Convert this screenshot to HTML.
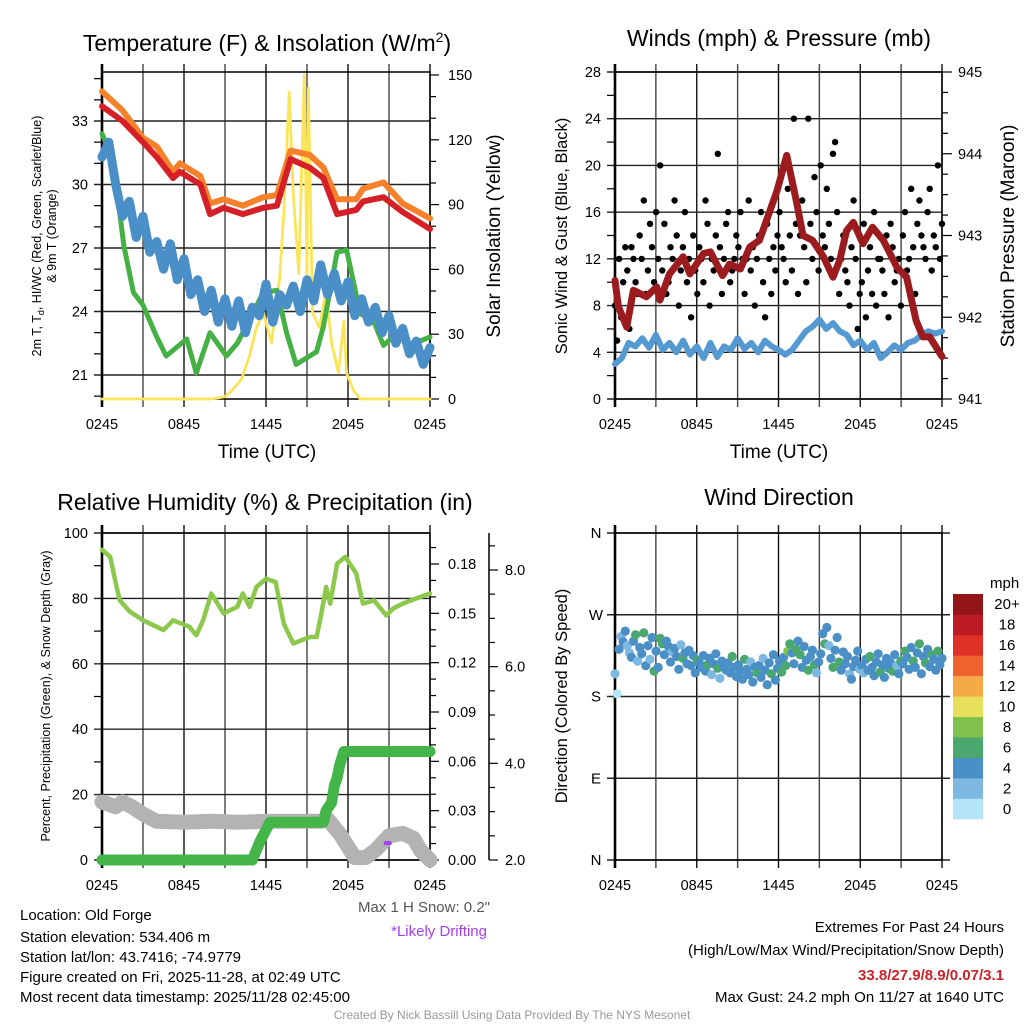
<!DOCTYPE html>
<html><head><meta charset="utf-8"><style>
html,body{margin:0;padding:0;background:#fff;}
svg{display:block;font-family:"Liberation Sans",Arial,sans-serif;}
</style></head><body>
<svg id="fig" width="1024" height="1024" viewBox="0 0 1024 1024" xmlns="http://www.w3.org/2000/svg">
<rect x="0" y="0" width="1024" height="1024" fill="#fff"/>
<text x="267" y="51" font-size="23" text-anchor="middle">Temperature (F) &amp; Insolation (W/m<tspan dy="-9" font-size="14">2</tspan><tspan dy="9">)</tspan></text>
<text x="779" y="46" font-size="23" text-anchor="middle">Winds (mph) &amp; Pressure (mb)</text>
<text x="265" y="510" font-size="23" text-anchor="middle">Relative Humidity (%) &amp; Precipitation (in)</text>
<text x="779" y="505" font-size="23" text-anchor="middle">Wind Direction</text>
<text transform="translate(41,236) rotate(-90)" font-size="12.5" text-anchor="middle">2m T, T<tspan dy="3" font-size="9">d</tspan><tspan dy="-3">, HI/WC (Red, Green, Scarlet/Blue)</tspan></text>
<text transform="translate(56,236) rotate(-90)" font-size="12.5" text-anchor="middle">&amp; 9m T (Orange)</text>
<text transform="translate(500,236) rotate(-90)" font-size="19" text-anchor="middle">Solar Insolation (Yellow)</text>
<text x="267" y="458" font-size="19" text-anchor="middle">Time (UTC)</text>
<text transform="translate(567,236) rotate(-90)" font-size="16.5" text-anchor="middle">Sonic Wind &amp; Gust (Blue, Black)</text>
<text transform="translate(1014,236) rotate(-90)" font-size="19" text-anchor="middle">Station Pressure (Maroon)</text>
<text x="779" y="458" font-size="19" text-anchor="middle">Time (UTC)</text>
<text transform="translate(50,696) rotate(-90)" font-size="12.5" text-anchor="middle">Percent, Precipitation (Green), &amp; Snow Depth (Gray)</text>
<text transform="translate(567,696) rotate(-90)" font-size="16.5" text-anchor="middle">Direction (Colored By Speed)</text>
<text x="990" y="588" font-size="15">mph</text>
<text x="490" y="912" font-size="15" fill="#555" text-anchor="end">Max 1 H Snow: 0.2"</text>
<text x="487" y="936" font-size="15" fill="#a33ff0" text-anchor="end">*Likely Drifting</text>
<g font-size="15">
<text x="20" y="920">Location: Old Forge</text>
<text x="20" y="942">Station elevation: 534.406 m</text>
<text x="20" y="962">Station lat/lon: 43.7416; -74.9779</text>
<text x="20" y="982">Figure created on Fri, 2025-11-28, at 02:49 UTC</text>
<text x="20" y="1002">Most recent data timestamp: 2025/11/28 02:45:00</text>
</g>
<g font-size="15" text-anchor="end">
<text x="1004" y="932">Extremes For Past 24 Hours</text>
<text x="1004" y="955">(High/Low/Max Wind/Precipitation/Snow Depth)</text>
<text x="1004" y="980" fill="#cc2229" font-weight="bold">33.8/27.9/8.9/0.07/3.1</text>
<text x="1004" y="1002">Max Gust: 24.2 mph On 11/27 at 1640 UTC</text>
</g>
<text x="512" y="1019" font-size="12" fill="#999" text-anchor="middle">Created By Nick Bassill Using Data Provided By The NYS Mesonet</text>
</svg>
<script>
// ---------- data ----------
const TIME_LABELS = ["0245","0845","1445","2045","0245"];
const T_HOURS = [0,1.5,3,4,5.2,5.7,7.2,7.9,8.9,10.3,11.8,12.8,13.8,15.2,16.2,17.2,18.6,19.1,20.6,22,24];
const T9M = [34.4,33.5,32.2,31.8,30.6,31.0,30.4,29.1,29.3,29.0,29.4,29.5,31.6,31.4,30.8,29.3,29.3,29.8,30.1,29.1,28.4];
const T2M = [33.7,33.0,32.0,31.3,30.3,30.6,30.0,28.6,28.9,28.6,28.9,29.0,31.2,30.8,30.3,28.6,28.8,29.2,29.4,28.7,27.9];
const TD_HOURS = [0,0.8,1.6,2.3,3.0,4.0,4.7,6.2,6.9,7.9,9.1,9.9,11.8,12.8,13.5,14.2,15.7,16.2,17.2,17.9,18.9,19.9,20.6,21.6,22.5,24];
const TD = [32.4,31.2,27.1,24.9,24.3,22.8,21.9,22.7,21.1,23.0,21.9,22.5,24.9,25.0,23.0,21.5,22.1,23.3,26.8,26.9,23.9,23.5,22.4,23.0,22.4,22.8];
const WINDCHILL = [31.3,32.0,30.0,28.5,29.2,27.5,28.5,26.8,27.3,26.0,27.2,25.5,26.5,24.8,25.5,24.0,25.0,23.5,24.6,23.3,24.5,23.0,24.2,23.8,25.3,23.5,24.8,24.3,25.2,24.0,25.5,24.5,26.2,24.8,25.8,24.5,25.4,23.8,24.6,23.5,24.2,23.0,23.8,22.5,23.2,22.0,22.6,21.5,22.3];
const SOLAR_HOURS = [0,8.0,9.0,9.5,10.2,10.8,11.3,11.8,12.4,13.0,13.3,13.7,14.0,14.4,14.8,15.0,15.1,15.4,15.9,16.4,16.8,17.3,17.7,17.9,18.4,18.9,24];
const SOLAR = [0,0,1,4,9,20,33,40,26,56,86,142,95,58,150,57,144,40,33,50,26,12,36,12,4,0,0];
const TEMP_TICKS = [21,24,27,30,33];
const SOLAR_TICKS = [0,30,60,90,120,150];

const SONIC = [3.0,3.5,4.8,4.5,5.2,4.4,5.5,4.2,4.8,4.0,5.0,3.8,4.5,3.5,4.8,3.6,4.5,4.2,5.2,4.3,4.8,4.0,5.0,4.5,4.2,3.8,4.2,5.0,5.8,6.2,6.8,6.0,6.5,5.8,5.5,4.6,5.0,4.2,4.8,3.5,4.0,4.6,4.2,4.8,5.0,5.5,5.8,5.6,5.8];
const GUST = [8,5,12,7,10,13,11,6,13,12,10,9,14,12,17,9,11,15,13,10,
16,12,20,11,15,9,10,13,12,17,14,8,11,13,16,10,12,7,14,11,
9,13,12,10,17,15,8,12,11,14,21,13,9,12,15,16,10,11,12,14,
13,16,12,9,12,17,11,13,8,12,14,16,10,7,15,12,9,13,11,14,
16,13,12,10,18,14,11,24,15,9,14,17,13,10,24,15,12,19,16,11,
20,14,13,18,15,12,21,22,16,9,12,14,11,10,8,13,17,12,6,9,
10,15,7,11,13,9,16,8,12,12,11,9,14,7,15,13,10,11,12,8,
14,16,11,12,18,13,9,15,17,14,13,12,16,18,11,14,13,20,12,15];
const P_HOURS = [0,0.25,0.86,1.35,2.3,3.06,3.3,4.0,5.0,5.5,6.5,7.0,7.9,8.4,9.2,9.9,10.6,11.9,12.6,13.3,13.8,14.5,15.3,16.0,16.5,17.0,17.5,18.2,18.9,19.7,20.7,21.4,22.1,22.6,23.1,24];
const PRESSURE = [942.45,942.13,941.88,942.33,942.25,942.37,942.21,942.53,942.74,942.53,942.78,942.8,942.51,942.65,942.59,942.86,942.94,943.55,943.98,943.43,943.0,942.94,942.74,942.49,942.70,943.06,943.16,942.9,943.1,942.94,942.61,942.49,941.96,941.76,941.76,941.52];
const WIND_TICKS = [0,4,8,12,16,20,24,28];
const PRESSURE_TICKS = [941,942,943,944,945];

const RH_HOURS = [0,0.6,1.07,1.3,2.05,3.0,4.0,4.5,5.2,6.4,6.9,7.4,8.0,8.9,9.9,10.3,10.8,11.3,12.0,12.7,13.3,14.0,15.2,15.7,16.0,16.4,16.7,17.2,17.8,18.6,19.1,19.9,20.3,20.8,21.3,22.0,23.0,24];
const RH = [94.9,92.7,83.5,79.4,75.9,73.3,71.3,70.3,73.3,71.3,68.7,73.3,81.5,75.4,77.4,81.5,77.4,83.5,86,85,72.3,66.2,68.2,68.2,74.3,83.5,78.4,90.6,92.7,87.6,78.4,79.4,77.4,74.8,76.9,78.4,80,81.5];
const PRECIP_HOURS = [0,11.0,11.6,12.3,16.2,16.4,16.8,17.0,17.2,17.4,17.7,24];
const PRECIP = [0,0,0.012,0.023,0.023,0.03,0.035,0.045,0.05,0.058,0.066,0.066];
const SNOW_HOURS = [0,1,1.5,2.2,3,4,6,8,10,12,14,16,16.5,17.5,18.5,19.3,20,21,22,22.8,23.3,24];
const SNOW = [3.2,3.1,3.2,3.1,2.95,2.8,2.78,2.8,2.78,2.8,2.8,2.8,2.85,2.5,2.05,2.05,2.2,2.5,2.55,2.45,2.2,2.0];
const RH_TICKS = [0,20,40,60,80,100];
const PRECIP_TICKS = ["0.00","0.03","0.06","0.09","0.12","0.15","0.18"];
const SNOW_TICKS = ["2.0","4.0","6.0","8.0"];
const DRIFT_HOUR = 20.9;
const DRIFT_VALUE = 2.35;

const DIR_LABELS = ["N","E","S","W","N"];
const DIRS = [205,183,232,246,240,252,236,228,223,241,248,219,234,227,250,214,236,221,245,208,
230,212,244,238,226,241,235,218,229,233,224,210,237,222,228,216,231,214,225,206,
220,217,212,225,208,215,222,204,216,227,211,200,219,213,209,217,206,224,212,202,
215,208,199,221,210,204,218,196,212,206,214,201,222,209,193,217,205,226,198,211,
219,207,223,214,230,238,228,216,232,241,226,212,235,220,209,224,231,215,206,218,
227,249,238,256,236,222,212,231,245,218,209,229,216,224,205,199,213,220,230,210,
214,206,221,209,224,212,203,218,227,207,215,201,222,211,217,208,226,214,205,219,
216,230,223,210,234,219,212,228,238,205,224,217,232,213,226,221,209,230,215,222];
const SPEEDS = [2,1,4,2,4,4,3,2,5,4,6,3,4,5,6,4,4,2,4,6,
4,4,7,6,4,5,4,4,2,4,5,4,3,6,4,4,5,4,4,4,
6,4,4,5,4,6,4,3,4,5,6,2,4,4,4,5,4,6,4,4,
5,4,4,6,4,5,2,4,4,6,4,5,3,4,4,5,6,4,4,5,
4,6,5,7,8,6,4,5,7,4,6,4,5,4,6,4,5,7,3,4,
4,5,6,4,3,4,6,5,4,6,4,4,5,4,2,4,4,4,5,3,
4,2,4,4,6,4,4,5,4,6,4,4,4,5,4,6,4,3,5,6,
4,6,4,4,5,6,4,5,6,4,4,6,5,4,6,5,4,6,4,5];
const CB_LABELS = ["0","2","4","6","8","10","12","14","16","18","20+"];
const CB_COLORS = ["#b5e3f7","#7db8e3","#4a8fc6","#4aa86e","#80c24c","#e6e05a","#f5a947","#ee6330","#de3128","#bb1c24","#921518"];

// ---------- helpers ----------
const NS="http://www.w3.org/2000/svg";
const svg=document.getElementById('fig');
function mk(tag,attrs,parent){const e=document.createElementNS(NS,tag);for(const k in attrs)e.setAttribute(k,attrs[k]);(parent||svg).appendChild(e);return e;}
function lin(d0,d1,r0,r1){return v=>r0+(v-d0)*(r1-r0)/(d1-d0);}
function pts(hs,vs,fx,fy){return hs.map((h,i)=>fx(h).toFixed(1)+','+fy(vs[i]).toFixed(1)).join(' ');}

const P1={x0:102,x1:430,y0:72,y1:399};
const P2={x0:615,x1:942,y0:72,y1:399};
const P3={x0:102,x1:430,y0:533,y1:860};
const P4={x0:615,x1:942,y0:533,y1:860};

function frame(P,key,hLines,extendRight){
  const g=mk('g',{});
  
  
  for(let h=0;h<=24;h+=3){
    const x=P.x0+h*(P.x1-P.x0)/24;
    const l=mk('line',{x1:x,x2:x,y1:P.y0-8,y2:P.y1+8,stroke:(h%6===0?'#111':'#444'),'stroke-width':1.4},g);
    
    
  }
  hLines.forEach(y=>{
    const l=mk('line',{x1:P.x0-8,x2:P.x1+(extendRight?8:0),y1:y,y2:y,stroke:'#222','stroke-width':1.4},g);
    
    
  });
  const r=mk('rect',{x:P.x0,y:P.y0,width:P.x1-P.x0,height:P.y1-P.y0,fill:'none',stroke:'#000','stroke-width':1.5},g);
  
  
  const a=mk('line',{x1:P.x0,x2:P.x0,y1:P.y0-8,y2:P.y1+8,stroke:'#000','stroke-width':2.6},g);
  
  
  TIME_LABELS.forEach((lab,i)=>{
    const t=mk('text',{x:P.x0+i*6*(P.x1-P.x0)/24,y:P.y1+30,'font-size':14.5,'text-anchor':'middle'});
    t.textContent=lab;
    
    
  });
}
function tick(x1,x2,y,key){const l=mk('line',{x1:x1,x2:x2,y1:y,y2:y,stroke:'#000','stroke-width':1.2});
  
  }
function label(x,y,txt,anchor,key,size){const t=mk('text',{x:x,y:y+5,'font-size':size||14.5,'text-anchor':anchor});t.textContent=txt;
  
  }
function poly(p,color,w,key,op){const e=mk('polyline',{points:p,fill:'none',stroke:color,'stroke-width':w,'stroke-linejoin':'round','stroke-linecap':'round','opacity':op||1});
  
  return e;}

// ---------- panel 1 ----------
{
  const P=P1, fx=lin(0,24,P.x0,P.x1), fy=lin(21,33,375,121), fs=lin(0,150,399,75);
  frame(P,'temp',TEMP_TICKS.map(fy),false);
  for(let v=20;v<=35;v++){if(!TEMP_TICKS.includes(v)&&fy(v)>P.y0&&fy(v)<P.y1)tick(P.x0-8,P.x0,fy(v),'temp-minor-tick');}
  TEMP_TICKS.forEach(v=>label(P.x0-14,fy(v),String(v),'end','temp-y-tick-label'));
  for(let v=0;v<=150;v+=10){tick(P.x1,P.x1+(v%30===0?9:6),fs(v),'solar-tick');}
  SOLAR_TICKS.forEach(v=>label(P.x1+18,fs(v),String(v),'start','solar-y-tick-label'));
  poly(pts(SOLAR_HOURS,SOLAR,fx,fs),'#fae55a',2.8,'insolation-line');
  poly(pts(TD_HOURS,TD,fx,fy),'#45b044',5,'dewpoint-line');
  poly(pts(WINDCHILL.map((v,i)=>i*24/(WINDCHILL.length-1)),WINDCHILL,fx,fy),'#4a8fc8',9,'windchill-line');
  poly(pts(T_HOURS,T9M,fx,fy),'#f5812a',6,'temp-9m-line');
  poly(pts(T_HOURS,T2M,fx,fy),'#d62027',6,'temp-2m-line');
}
// ---------- panel 2 ----------
{
  const P=P2, fx=lin(0,24,P.x0,P.x1), fy=lin(0,28,P.y1,P.y0), fp=lin(941,945,P.y1,P.y0);
  frame(P,'wind',WIND_TICKS.map(fy),false);
  for(let v=2;v<28;v+=4)tick(P.x0-8,P.x0,fy(v),'wind-minor-tick');
  WIND_TICKS.forEach(v=>label(P.x0-14,fy(v),String(v),'end','wind-y-tick-label'));
  for(let v=941;v<=945.001;v+=0.25){tick(P.x1,P.x1+(Math.abs(v-Math.round(v))<0.01?10:6),fp(v),'pressure-tick');}
  PRESSURE_TICKS.forEach(v=>label(P.x1+16,fp(v),String(v),'start','pressure-y-tick-label'));
  poly(pts(SONIC.map((v,i)=>i*24/(SONIC.length-1)),SONIC,fx,fy),'#5599d2',6,'sonic-wind-line');
  GUST.forEach((v,i)=>{
    const c=mk('circle',{cx:fx(i*24/(GUST.length-1)).toFixed(1),cy:fy(v).toFixed(1),r:3.2,fill:'#000'});
    
    
  });
  poly(pts(P_HOURS,PRESSURE,fx,fp),'#9b1b1e',7,'pressure-line');
}
// ---------- panel 3 ----------
{
  const P=P3, fx=lin(0,24,P.x0,P.x1), fy=lin(0,100,P.y1,P.y0), fpr=lin(0,0.18,860,564), fsn=lin(2,8,860,570);
  frame(P,'rh',RH_TICKS.map(fy),false);
  for(let v=10;v<100;v+=20)tick(P.x0-8,P.x0,fy(v),'rh-minor-tick');
  RH_TICKS.forEach(v=>label(P.x0-14,fy(v),String(v),'end','rh-y-tick-label'));
  for(let v=0;v<=0.2;v+=0.01){if(fpr(v)>=P.y0)tick(P.x1,P.x1+(Math.round(v*100)%3===0?9:6),fpr(v),'precip-tick');}
  PRECIP_TICKS.forEach(s=>label(P.x1+18,fpr(parseFloat(s)),s,'start','precip-y-tick-label'));
  const ax=mk('line',{x1:489,x2:489,y1:P.y0,y2:P.y1,stroke:'#000','stroke-width':1.5});
  
  
  for(let v=2;v<=8.5;v+=0.5)tick(489,489+(v%2===0?9:6),fsn(v),'snow-tick');
  SNOW_TICKS.forEach(s=>label(505,fsn(parseFloat(s)),s,'start','snow-y-tick-label'));
  poly(pts(RH_HOURS,RH,fx,fy),'#8cc84b',4.5,'rh-line');
  poly(pts(SNOW_HOURS,SNOW,fx,fsn),'#b3b3b3',15,'snow-depth-line');
  poly(pts(PRECIP_HOURS,PRECIP,fx,fpr),'#44b548',11,'precip-line');
  const d=mk('rect',{x:fx(DRIFT_HOUR)-4,y:fsn(DRIFT_VALUE)-2,width:8,height:4,rx:2,fill:'#a33ff0'});
  
  
}
// ---------- panel 4 ----------
{
  const P=P4, fx=lin(0,24,P.x0,P.x1), fy=lin(0,360,P.y1,P.y0);
  frame(P,'direction',[0,90,180,270,360].map(fy),true);
  DIR_LABELS.forEach((s,i)=>label(596,fy(i*90),s,'middle','direction-y-tick-label',15));
  DIRS.forEach((v,i)=>{
    const b=Math.min(10,Math.floor(SPEEDS[i]/2));
    const c=mk('circle',{cx:fx(i*24/(DIRS.length-1)).toFixed(1),cy:fy(v).toFixed(1),r:4.6,fill:CB_COLORS[b]});
    
    
  });
  const h=225/CB_COLORS.length;
  CB_COLORS.forEach((col,i)=>{
    const y=819-(i+1)*h;
    const r=mk('rect',{x:953,y:y.toFixed(2),width:30,height:(h+0.3).toFixed(2),fill:col});
    
    
    label(1007,y+h/2,CB_LABELS[i],'middle','colorbar-label',15);
  });
}
</script>
</body></html>
